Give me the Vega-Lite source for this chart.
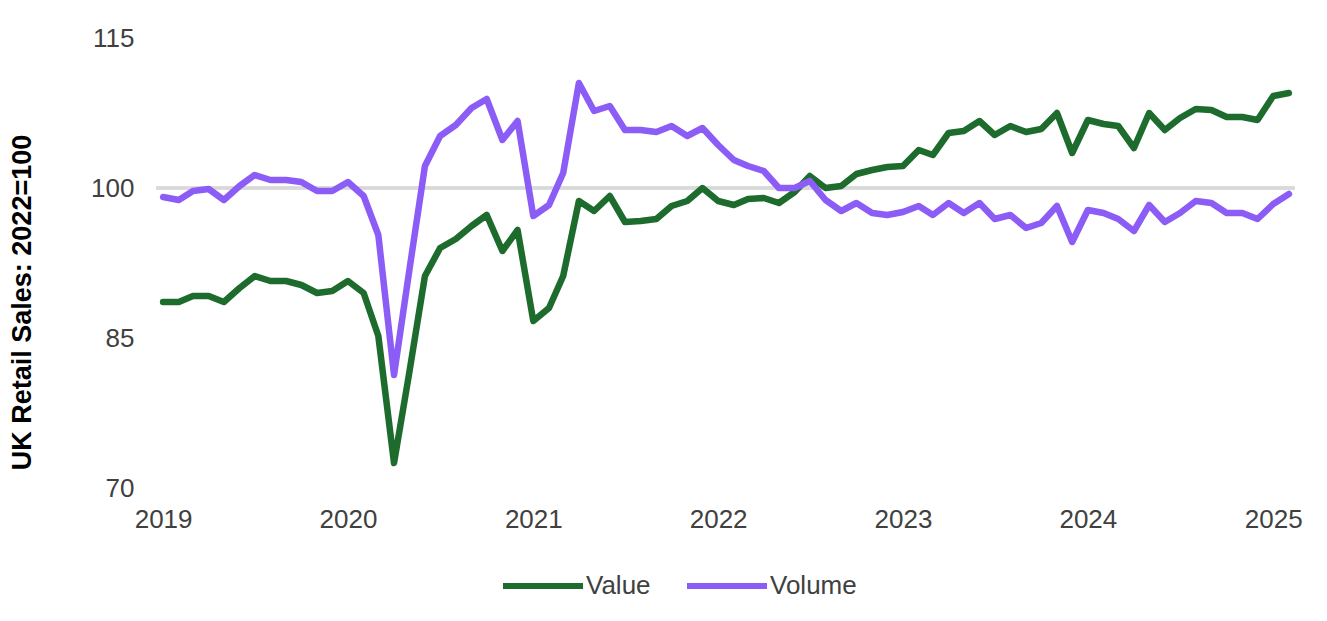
{
  "$schema": "https://vega.github.io/schema/vega-lite/v6.json",
  "autosize": {"type": "none"},
  "padding": {"left": 156, "top": 38, "right": 32, "bottom": 133},
  "width": 1139,
  "height": 450,
  "background": "white",
  "config": {
    "view": {"stroke": null},
    "font": "Liberation Sans",
    "axisY": {
      "ticks": false,
      "domain": false,
      "grid": false,
      "labelFontSize": 26,
      "labelColor": "#404040",
      "labelPadding": 22,
      "labelFont": "Liberation Sans",
      "titleFont": "Liberation Sans",
      "titleFontSize": 27,
      "titleFontWeight": "bold",
      "titleColor": "#000000",
      "titleAngle": 270,
      "titleX": -134,
      "titleY": 264,
      "titleAlign": "center",
      "titleBaseline": "middle"
    }
  },
  "data": {
    "values": [
      {"date": "2019-01-01", "series": "Value", "index": 88.6},
      {"date": "2019-02-01", "series": "Value", "index": 88.6},
      {"date": "2019-03-01", "series": "Value", "index": 89.2},
      {"date": "2019-04-01", "series": "Value", "index": 89.2},
      {"date": "2019-05-01", "series": "Value", "index": 88.6},
      {"date": "2019-06-01", "series": "Value", "index": 90.0},
      {"date": "2019-07-01", "series": "Value", "index": 91.2},
      {"date": "2019-08-01", "series": "Value", "index": 90.7},
      {"date": "2019-09-01", "series": "Value", "index": 90.7},
      {"date": "2019-10-01", "series": "Value", "index": 90.3},
      {"date": "2019-11-01", "series": "Value", "index": 89.5},
      {"date": "2019-12-01", "series": "Value", "index": 89.7},
      {"date": "2020-01-01", "series": "Value", "index": 90.7},
      {"date": "2020-02-01", "series": "Value", "index": 89.5},
      {"date": "2020-03-01", "series": "Value", "index": 85.2},
      {"date": "2020-04-01", "series": "Value", "index": 72.5},
      {"date": "2020-05-01", "series": "Value", "index": 81.5},
      {"date": "2020-06-01", "series": "Value", "index": 91.2},
      {"date": "2020-07-01", "series": "Value", "index": 94.0},
      {"date": "2020-08-01", "series": "Value", "index": 94.9},
      {"date": "2020-09-01", "series": "Value", "index": 96.2},
      {"date": "2020-10-01", "series": "Value", "index": 97.3},
      {"date": "2020-11-01", "series": "Value", "index": 93.7},
      {"date": "2020-12-01", "series": "Value", "index": 95.8},
      {"date": "2021-01-01", "series": "Value", "index": 86.7},
      {"date": "2021-02-01", "series": "Value", "index": 88.0},
      {"date": "2021-03-01", "series": "Value", "index": 91.2},
      {"date": "2021-04-01", "series": "Value", "index": 98.7},
      {"date": "2021-05-01", "series": "Value", "index": 97.7},
      {"date": "2021-06-01", "series": "Value", "index": 99.2},
      {"date": "2021-07-01", "series": "Value", "index": 96.6},
      {"date": "2021-08-01", "series": "Value", "index": 96.7},
      {"date": "2021-09-01", "series": "Value", "index": 96.9},
      {"date": "2021-10-01", "series": "Value", "index": 98.2},
      {"date": "2021-11-01", "series": "Value", "index": 98.7},
      {"date": "2021-12-01", "series": "Value", "index": 100.0},
      {"date": "2022-01-01", "series": "Value", "index": 98.7},
      {"date": "2022-02-01", "series": "Value", "index": 98.3},
      {"date": "2022-03-01", "series": "Value", "index": 98.9},
      {"date": "2022-04-01", "series": "Value", "index": 99.0},
      {"date": "2022-05-01", "series": "Value", "index": 98.5},
      {"date": "2022-06-01", "series": "Value", "index": 99.6},
      {"date": "2022-07-01", "series": "Value", "index": 101.2},
      {"date": "2022-08-01", "series": "Value", "index": 100.0},
      {"date": "2022-09-01", "series": "Value", "index": 100.2},
      {"date": "2022-10-01", "series": "Value", "index": 101.4},
      {"date": "2022-11-01", "series": "Value", "index": 101.8},
      {"date": "2022-12-01", "series": "Value", "index": 102.1},
      {"date": "2023-01-01", "series": "Value", "index": 102.2},
      {"date": "2023-02-01", "series": "Value", "index": 103.8},
      {"date": "2023-03-01", "series": "Value", "index": 103.3},
      {"date": "2023-04-01", "series": "Value", "index": 105.5},
      {"date": "2023-05-01", "series": "Value", "index": 105.7},
      {"date": "2023-06-01", "series": "Value", "index": 106.7},
      {"date": "2023-07-01", "series": "Value", "index": 105.3},
      {"date": "2023-08-01", "series": "Value", "index": 106.2},
      {"date": "2023-09-01", "series": "Value", "index": 105.6},
      {"date": "2023-10-01", "series": "Value", "index": 105.9},
      {"date": "2023-11-01", "series": "Value", "index": 107.5},
      {"date": "2023-12-01", "series": "Value", "index": 103.5},
      {"date": "2024-01-01", "series": "Value", "index": 106.8},
      {"date": "2024-02-01", "series": "Value", "index": 106.4},
      {"date": "2024-03-01", "series": "Value", "index": 106.2},
      {"date": "2024-04-01", "series": "Value", "index": 104.0},
      {"date": "2024-05-01", "series": "Value", "index": 107.5},
      {"date": "2024-06-01", "series": "Value", "index": 105.8},
      {"date": "2024-07-01", "series": "Value", "index": 107.0},
      {"date": "2024-08-01", "series": "Value", "index": 107.9},
      {"date": "2024-09-01", "series": "Value", "index": 107.8},
      {"date": "2024-10-01", "series": "Value", "index": 107.1},
      {"date": "2024-11-01", "series": "Value", "index": 107.1},
      {"date": "2024-12-01", "series": "Value", "index": 106.8},
      {"date": "2025-01-01", "series": "Value", "index": 109.2},
      {"date": "2025-02-01", "series": "Value", "index": 109.5},
      {"date": "2019-01-01", "series": "Volume", "index": 99.1},
      {"date": "2019-02-01", "series": "Volume", "index": 98.8},
      {"date": "2019-03-01", "series": "Volume", "index": 99.7},
      {"date": "2019-04-01", "series": "Volume", "index": 99.9},
      {"date": "2019-05-01", "series": "Volume", "index": 98.8},
      {"date": "2019-06-01", "series": "Volume", "index": 100.2},
      {"date": "2019-07-01", "series": "Volume", "index": 101.3},
      {"date": "2019-08-01", "series": "Volume", "index": 100.8},
      {"date": "2019-09-01", "series": "Volume", "index": 100.8},
      {"date": "2019-10-01", "series": "Volume", "index": 100.6},
      {"date": "2019-11-01", "series": "Volume", "index": 99.7},
      {"date": "2019-12-01", "series": "Volume", "index": 99.7},
      {"date": "2020-01-01", "series": "Volume", "index": 100.6},
      {"date": "2020-02-01", "series": "Volume", "index": 99.2},
      {"date": "2020-03-01", "series": "Volume", "index": 95.3},
      {"date": "2020-04-01", "series": "Volume", "index": 81.3},
      {"date": "2020-05-01", "series": "Volume", "index": 91.7},
      {"date": "2020-06-01", "series": "Volume", "index": 102.2},
      {"date": "2020-07-01", "series": "Volume", "index": 105.2},
      {"date": "2020-08-01", "series": "Volume", "index": 106.3},
      {"date": "2020-09-01", "series": "Volume", "index": 108.0},
      {"date": "2020-10-01", "series": "Volume", "index": 108.9},
      {"date": "2020-11-01", "series": "Volume", "index": 104.8},
      {"date": "2020-12-01", "series": "Volume", "index": 106.7},
      {"date": "2021-01-01", "series": "Volume", "index": 97.2},
      {"date": "2021-02-01", "series": "Volume", "index": 98.3},
      {"date": "2021-03-01", "series": "Volume", "index": 101.5},
      {"date": "2021-04-01", "series": "Volume", "index": 110.5},
      {"date": "2021-05-01", "series": "Volume", "index": 107.7},
      {"date": "2021-06-01", "series": "Volume", "index": 108.2},
      {"date": "2021-07-01", "series": "Volume", "index": 105.8},
      {"date": "2021-08-01", "series": "Volume", "index": 105.8},
      {"date": "2021-09-01", "series": "Volume", "index": 105.6},
      {"date": "2021-10-01", "series": "Volume", "index": 106.2},
      {"date": "2021-11-01", "series": "Volume", "index": 105.2},
      {"date": "2021-12-01", "series": "Volume", "index": 106.0},
      {"date": "2022-01-01", "series": "Volume", "index": 104.3},
      {"date": "2022-02-01", "series": "Volume", "index": 102.8},
      {"date": "2022-03-01", "series": "Volume", "index": 102.2},
      {"date": "2022-04-01", "series": "Volume", "index": 101.7},
      {"date": "2022-05-01", "series": "Volume", "index": 100.0},
      {"date": "2022-06-01", "series": "Volume", "index": 100.0},
      {"date": "2022-07-01", "series": "Volume", "index": 100.7},
      {"date": "2022-08-01", "series": "Volume", "index": 98.8},
      {"date": "2022-09-01", "series": "Volume", "index": 97.7},
      {"date": "2022-10-01", "series": "Volume", "index": 98.5},
      {"date": "2022-11-01", "series": "Volume", "index": 97.5},
      {"date": "2022-12-01", "series": "Volume", "index": 97.3},
      {"date": "2023-01-01", "series": "Volume", "index": 97.6},
      {"date": "2023-02-01", "series": "Volume", "index": 98.2},
      {"date": "2023-03-01", "series": "Volume", "index": 97.3},
      {"date": "2023-04-01", "series": "Volume", "index": 98.5},
      {"date": "2023-05-01", "series": "Volume", "index": 97.5},
      {"date": "2023-06-01", "series": "Volume", "index": 98.5},
      {"date": "2023-07-01", "series": "Volume", "index": 96.9},
      {"date": "2023-08-01", "series": "Volume", "index": 97.3},
      {"date": "2023-09-01", "series": "Volume", "index": 96.0},
      {"date": "2023-10-01", "series": "Volume", "index": 96.5},
      {"date": "2023-11-01", "series": "Volume", "index": 98.2},
      {"date": "2023-12-01", "series": "Volume", "index": 94.6},
      {"date": "2024-01-01", "series": "Volume", "index": 97.8},
      {"date": "2024-02-01", "series": "Volume", "index": 97.5},
      {"date": "2024-03-01", "series": "Volume", "index": 96.9},
      {"date": "2024-04-01", "series": "Volume", "index": 95.7},
      {"date": "2024-05-01", "series": "Volume", "index": 98.3},
      {"date": "2024-06-01", "series": "Volume", "index": 96.6},
      {"date": "2024-07-01", "series": "Volume", "index": 97.5},
      {"date": "2024-08-01", "series": "Volume", "index": 98.7},
      {"date": "2024-09-01", "series": "Volume", "index": 98.5},
      {"date": "2024-10-01", "series": "Volume", "index": 97.5},
      {"date": "2024-11-01", "series": "Volume", "index": 97.5},
      {"date": "2024-12-01", "series": "Volume", "index": 96.9},
      {"date": "2025-01-01", "series": "Volume", "index": 98.4},
      {"date": "2025-02-01", "series": "Volume", "index": 99.4}
    ]
  },
  "layer": [
    {
      "mark": {"type": "rule", "color": "#d9d9d9", "strokeWidth": 2.5},
      "encoding": {
        "y": {
          "datum": 100,
          "type": "quantitative",
          "title": "UK Retail Sales: 2022=100",
          "axis": {"values": [70, 85, 100, 115]}
        }
      }
    },
    {
      "mark": {"type": "line", "strokeWidth": 6.5, "strokeJoin": "round", "strokeCap": "round"},
      "encoding": {
        "x": {
          "field": "date",
          "type": "temporal",
          "scale": {
            "type": "utc",
            "domain": [
              {"year": 2018, "month": 12, "date": 18, "utc": true},
              {"year": 2025, "month": 2, "date": 13, "utc": true}
            ]
          },
          "axis": {
            "title": null,
            "values": [
              {"year": 2019, "month": 1, "date": 1, "utc": true},
              {"year": 2020, "month": 1, "date": 1, "utc": true},
              {"year": 2021, "month": 1, "date": 1, "utc": true},
              {"year": 2022, "month": 1, "date": 1, "utc": true},
              {"year": 2023, "month": 1, "date": 1, "utc": true},
              {"year": 2024, "month": 1, "date": 1, "utc": true},
              {"year": 2025, "month": 1, "date": 1, "utc": true}
            ],
            "format": "%Y",
            "formatType": "utc",
            "ticks": false,
            "domain": false,
            "grid": false,
            "labelFontSize": 26,
            "labelColor": "#404040",
            "labelPadding": 18,
            "labelFont": "Liberation Sans"
          }
        },
        "y": {
          "field": "index",
          "type": "quantitative",
          "title": "UK Retail Sales: 2022=100",
          "scale": {"domain": [70, 115], "nice": false, "zero": false},
          "axis": {"values": [70, 85, 100, 115]}
        },
        "color": {
          "field": "series",
          "type": "nominal",
          "scale": {"domain": ["Value", "Volume"], "range": ["#1e6b2e", "#8b5cf6"]},
          "legend": {
            "title": null,
            "orient": "none",
            "direction": "horizontal",
            "legendX": 344,
            "legendY": 505,
            "symbolType": "stroke",
            "symbolSize": 6400,
            "symbolStrokeWidth": 6,
            "labelFontSize": 26,
            "labelFont": "Liberation Sans",
            "labelColor": "#404040",
            "labelOffset": 0,
            "columnPadding": 24
          }
        }
      }
    }
  ]
}
